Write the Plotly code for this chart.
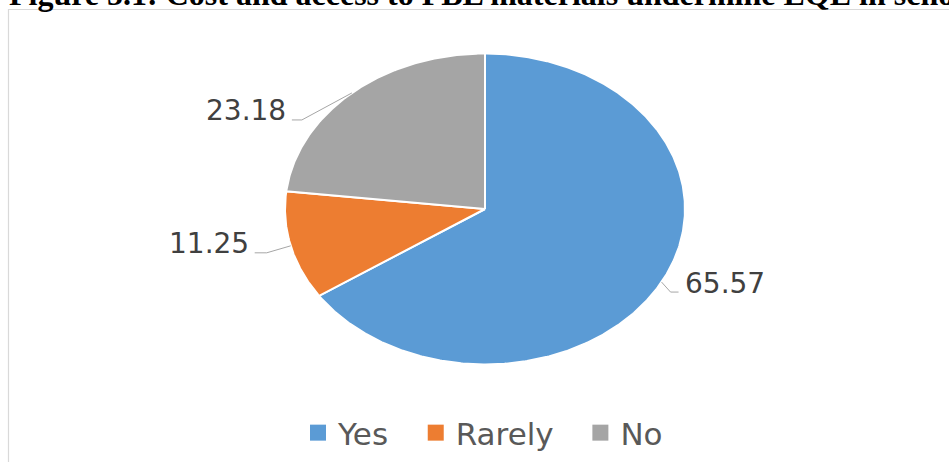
import numpy as np
import plotly.graph_objects as go

# ---- data -------------------------------------------------------------
categories = ["Yes", "Rarely", "No"]
values = [65.57, 11.25, 23.18]
value_labels = ["65.57", "11.25", "23.18"]
title_text = "Figure 5.1: Cost and access to PBL materials undermine EQE in schools"

# ---- styling / layout --------------------------------------------------
colors = ["#5B9BD5", "#ED7D31", "#A5A5A5"]
W, H = 949, 462
CX, CY = 485, 209          # pie centre (px)
RX, RY = 200, 155.5        # pie half-width / half-height (px)
# leader lines: (elbow dx, elbow dy, horizontal run) in px from the rim point
leader_geom = [(9, 10, 8), (-24, 7, -12), (-50, 27, -10)]
label_font = dict(family="DejaVu Sans", size=28, color="#404040")
legend_pad = "\u2002\u2009"  # extra breathing room after a legend entry


def to_x(px):
    return (px - CX) / RX


def to_y(py):
    return (CY - py) / RY


fig = go.Figure()

# slices, clockwise from 12 o'clock, drawn on a unit circle that the axes stretch
total = sum(values)
start = 0.0
mid_angles = []
for cat, val, col in zip(categories, values, colors):
    sweep = 2 * np.pi * val / total
    n = max(3, int(np.degrees(sweep) * 2))
    th = np.linspace(start, start + sweep, n)
    xs = np.concatenate([[0], np.sin(th), [0]])
    ys = np.concatenate([[0], np.cos(th), [0]])
    fig.add_trace(go.Scatter(
        x=xs, y=ys, fill="toself", fillcolor=col, mode="lines",
        line=dict(color="white", width=2), hoverinfo="skip",
        showlegend=False, legendgroup=cat,
    ))
    mid_angles.append(start + sweep / 2)
    start += sweep

# leader lines and value labels
for lab, ang, (edx, edy, run) in zip(value_labels, mid_angles, leader_geom):
    rim_px = CX + RX * np.sin(ang)
    rim_py = CY - RY * np.cos(ang)
    elb_px, elb_py = rim_px + edx, rim_py + edy
    end_px = elb_px + run
    fig.add_trace(go.Scatter(
        x=[to_x(rim_px), to_x(elb_px), to_x(end_px)],
        y=[to_y(rim_py), to_y(elb_py), to_y(elb_py)],
        mode="lines", line=dict(color="#A6A6A6", width=1),
        hoverinfo="skip", showlegend=False,
    ))
    side = 1 if run > 0 else -1
    fig.add_annotation(
        x=to_x(end_px + side * 4), y=to_y(elb_py - 9), xref="x", yref="y",
        text=lab, showarrow=False, font=label_font,
        xanchor="left" if side > 0 else "right", yanchor="middle",
    )

# legend entries
for i, (cat, col) in enumerate(zip(categories, colors)):
    name = cat + (legend_pad if i < len(categories) - 1 else "")
    fig.add_trace(go.Scatter(
        x=[None], y=[None], mode="markers", name=name, legendgroup=cat,
        marker=dict(symbol="square", size=17, color=col),
    ))

# chart frame and figure caption
fig.add_shape(type="rect", xref="paper", yref="paper",
              x0=8.5 / W, x1=1.05, y0=-0.05, y1=1 - 9.5 / H,
              line=dict(color="#D9D9D9", width=1.2), fillcolor="rgba(0,0,0,0)",
              layer="below")
fig.add_annotation(
    x=7 / W, y=1 + 5.8 / H, xref="paper", yref="paper",
    text="<b>" + title_text + "</b>", showarrow=False,
    xanchor="left", yanchor="middle",
    font=dict(family="Liberation Serif", size=32, color="#000000"),
)

fig.update_layout(
    width=W, height=H, autosize=False,
    margin=dict(l=0, r=0, t=0, b=0),
    paper_bgcolor="white", plot_bgcolor="white",
    xaxis=dict(range=[to_x(0), to_x(W)], visible=False, fixedrange=True),
    yaxis=dict(range=[to_y(H), to_y(0)], visible=False, fixedrange=True),
    showlegend=True,
    legend=dict(
        orientation="h", x=483 / W, xanchor="center",
        y=1 - 433 / H, yanchor="middle",
        font=dict(family="DejaVu Sans", size=31, color="#595959"),
        bgcolor="rgba(0,0,0,0)",
    ),
)

fig.write_html("out.html")
